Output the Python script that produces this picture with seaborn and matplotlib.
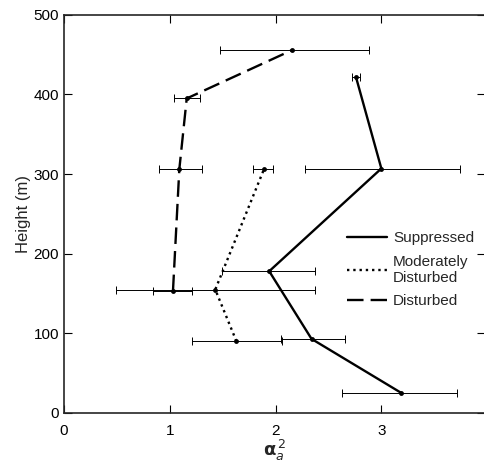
import numpy as np
import pandas as pd
import matplotlib
matplotlib.use('Agg')
import matplotlib.pyplot as plt
import seaborn as sns

# 数据：各剖面的 alpha^2 与高度，以及误差范围
sup_x = [3.19, 2.34, 1.94, 3.00, 2.76]
sup_h = [25, 93, 178, 307, 422]
sup_lo = [2.63, 2.05, 1.49, 2.28, 2.72]
sup_hi = [3.72, 2.66, 2.37, 3.74, 2.80]

mod_x = [1.63, 1.43, 1.89]
mod_h = [90, 155, 306]
mod_lo = [1.21, 0.49, 1.79]
mod_hi = [2.06, 2.37, 1.98]

dis_x = [1.03, 1.09, 1.16, 2.16]
dis_h = [153, 306, 395, 456]
dis_lo = [0.84, 0.90, 1.04, 1.47]
dis_hi = [1.21, 1.30, 1.29, 2.88]

series = [
    ('Suppressed', sup_x, sup_h, sup_lo, sup_hi, '-', 1.7),
    ('Moderately\nDisturbed', mod_x, mod_h, mod_lo, mod_hi, ':', 1.7),
    ('Disturbed', dis_x, dis_h, dis_lo, dis_hi, (0, (7, 3)), 1.7),
]

sns.set_style('ticks')
plt.rcParams['font.family'] = ['Liberation Sans', 'DejaVu Sans']

fig = plt.figure(figsize=(4.85, 4.65), dpi=100)
ax = fig.add_axes([0.132, 0.112, 0.868, 0.856])

for name, xs, hs, lo, hi, ls, lw in series:
    df = pd.DataFrame({'a2': xs, 'height': hs})
    sns.lineplot(data=df, x='a2', y='height', orient='y', sort=False, ax=ax,
                 color='black', linestyle=ls, linewidth=lw, label=name,
                 marker='o', markersize=3.5, markeredgewidth=0)
    xs_a = np.array(xs)
    ax.errorbar(xs_a, hs, xerr=[xs_a - np.array(lo), np.array(hi) - xs_a],
                fmt='none', ecolor='black', elinewidth=0.7, capsize=3,
                capthick=0.7)

ax.set_xlim(0, 3.98)
ax.set_ylim(0, 500)
ax.set_xticks([0, 1, 2, 3])
ax.set_yticks([0, 100, 200, 300, 400, 500])
ax.tick_params(direction='in', top=True, right=True, length=6, width=0.8,
               labelsize=11, colors='black')
ax.tick_params(axis='x', pad=8)
for s in ['left', 'bottom', 'top']:
    ax.spines[s].set_linewidth(1.2)
ax.spines['right'].set_visible(False)

ax.set_xlabel(r'$\mathbf{\alpha}_a^{\,2}$', fontsize=13, labelpad=0)
ax.set_ylabel('Height (m)', fontsize=12, labelpad=2)

leg = ax.legend(loc='upper left', bbox_to_anchor=(0.655, 0.475), frameon=False,
                fontsize=11, handlelength=2.6, handletextpad=0.4,
                labelspacing=0.6, borderpad=0)
for line in leg.get_lines():
    line.set_marker('')

fig.savefig('out.png', dpi=100)
